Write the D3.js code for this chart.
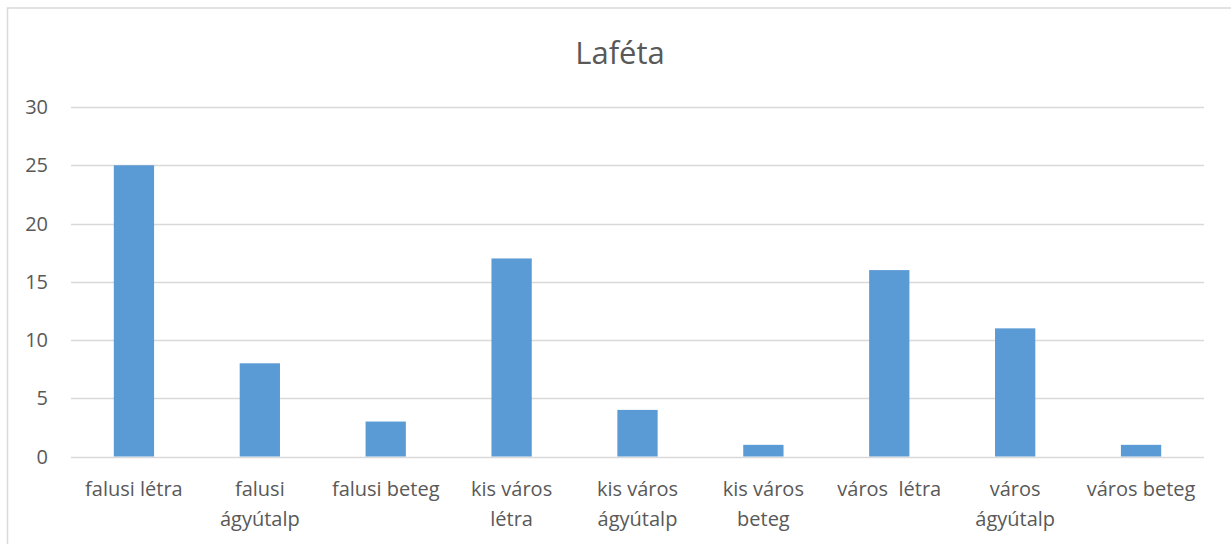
<!DOCTYPE html>
<html><head><meta charset="utf-8">
<script src="https://cdn.jsdelivr.net/npm/d3@7"></script>
<style>
body{margin:0;background:#fff;}
text{font-family:"Open Sans",sans-serif;fill:#595959;}
</style></head>
<body><svg id="chart" width="1231" height="544"></svg>
<script>
const title = "Laféta";
const categories = ["falusi létra","falusi ágyútalp","falusi beteg","kis város létra","kis város ágyútalp","kis város beteg","város  létra","város ágyútalp","város beteg"];
const values = [25, 8, 3, 17, 4, 1, 16, 11, 1];
const yTicks = [0, 5, 10, 15, 20, 25, 30];

const svg = d3.select("#chart");
svg.append("rect").attr("x",7.5).attr("y",8).attr("width",1240).attr("height",560)
  .attr("fill","#fff").attr("stroke","#d9d9d9").attr("stroke-width",1.5);

const x = d3.scaleBand().domain(categories).range([71,1204]).paddingInner(0.68).paddingOuter(0.34);
const y = d3.scaleLinear().domain([0,30]).range([456.5,107]);

svg.append("text").attr("x",620).attr("y",64).attr("text-anchor","middle")
  .style("font-size","31px").text(title);

const grid = svg.append("g");
grid.selectAll("line").data(yTicks).join("line")
  .attr("x1",71).attr("x2",1204).attr("y1",d=>Math.round(y(d))+0.5).attr("y2",d=>Math.round(y(d))+0.5)
  .attr("stroke","#d9d9d9").attr("stroke-width",1.5);
svg.append("g").selectAll("text").data(yTicks).join("text")
  .attr("x",48).attr("y",d=>y(d)+7).attr("text-anchor","end").style("font-size","20px").text(d=>d);

svg.append("g").selectAll("rect").data(values).join("rect")
  .attr("x",(d,i)=>x(categories[i])).attr("width",x.bandwidth())
  .attr("y",d=>y(d)).attr("height",d=>y(0)-y(d)).attr("fill","#5b9bd5");

const lab = svg.append("g");
categories.forEach(c=>{
  const t = lab.append("text").attr("text-anchor","middle").style("font-size","20px").style("white-space","pre")
    .attr("x",x(c)+x.bandwidth()/2).attr("y",496);
  t.text(c);
  if (t.node().getComputedTextLength() > 118) {
    const words = c.split(" ");
    t.text(null);
    let lines=[], cur=[];
    words.forEach(w=>{
      const trial = cur.concat([w]).join(" ");
      t.text(trial);
      if (t.node().getComputedTextLength() > 118 && cur.length){ lines.push(cur.join(" ")); cur=[w]; }
      else cur.push(w);
    });
    lines.push(cur.join(" "));
    t.text(null);
    lines.forEach((l,i)=>t.append("tspan").attr("x",x(c)+x.bandwidth()/2).attr("dy",i?30:0).text(l));
  }
});
</script></body></html>
